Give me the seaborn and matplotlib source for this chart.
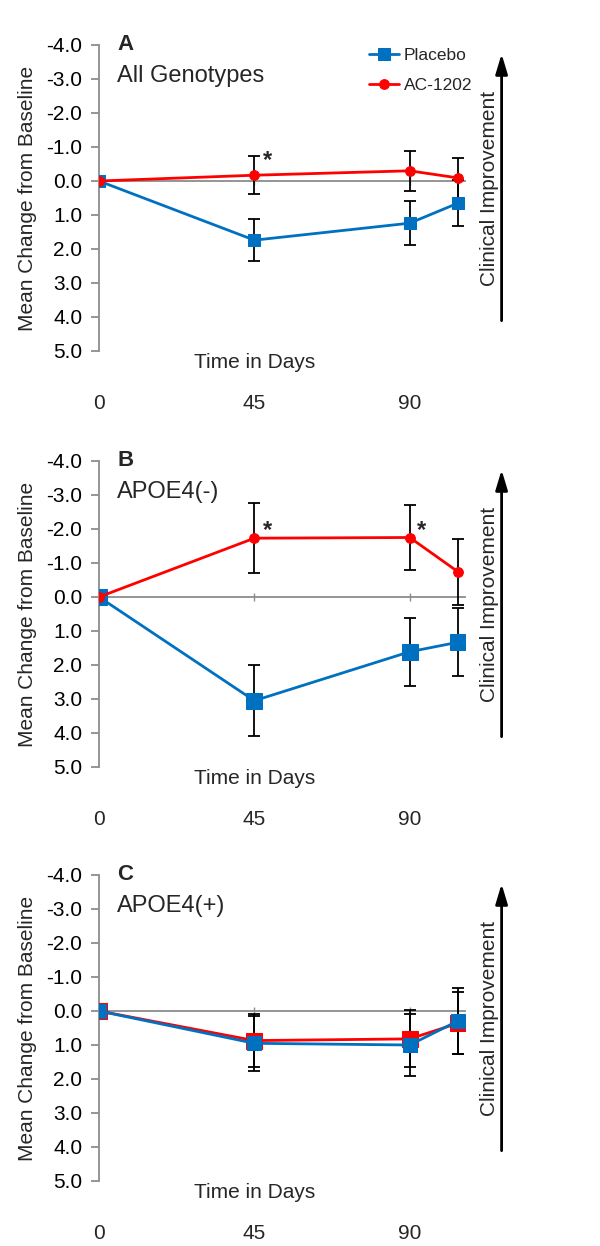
import pandas as pd
import numpy as np
import seaborn as sns
import matplotlib.pyplot as plt

sns.set_theme(style="white")
plt.rcParams['font.family'] = ['Liberation Sans', 'DejaVu Sans']

days = [0, 45, 90, 104]
xtick_vals = [0, 45, 90]

# panel A - all genotypes
a_placebo = [0.0, 1.74, 1.24, 0.65]
a_placebo_err = [0.0, 0.62, 0.64, 0.67]
a_ac = [0.0, -0.17, -0.30, -0.09]
a_ac_err = [0.0, 0.56, 0.58, 0.60]

# panel B - APOE4(-)
b_placebo = [0.0, 3.05, 1.61, 1.33]
b_placebo_err = [0.0, 1.05, 1.0, 1.0]
b_ac = [0.0, -1.73, -1.75, -0.74]
b_ac_err = [0.0, 1.03, 0.97, 0.98]

# panel C - APOE4(+)
c_placebo = [0.0, 0.95, 1.0, 0.29]
c_placebo_err = [0.0, 0.80, 0.90, 0.98]
c_ac = [0.0, 0.87, 0.82, 0.36]
c_ac_err = [0.0, 0.77, 0.84, 0.91]

panel_letters = ["A", "B", "C"]
panel_titles = ["All Genotypes", "APOE4(-)", "APOE4(+)"]
stars = [[(48.9, -0.6)], [(48.9, -1.97), (93.4, -1.97)], []]

blue = "#0070C0"
red = "#FF0000"
gray = "#8c8c8c"

panels = [
    (a_placebo, a_placebo_err, a_ac, a_ac_err, "o"),
    (b_placebo, b_placebo_err, b_ac, b_ac_err, "o"),
    (c_placebo, c_placebo_err, c_ac, c_ac_err, "s"),
]
msizes = [(8, 7), (11, 7), (10, 11)]

fig = plt.figure(figsize=(6, 12.46), dpi=100)
tops = [45, 461, 875]
H = 1246.0

for i, (pl, ple, ac, ace, ac_marker) in enumerate(panels):
    top = tops[i]
    ax = fig.add_axes([99 / 600, 1 - (top + 306) / H, 366 / 600, 306 / H])

    df = pd.DataFrame({"day": days * 2,
                       "value": pl + ac,
                       "group": ["Placebo"] * 4 + ["AC-1202"] * 4})

    # error bars first, behind markers
    ax.errorbar(days[1:], ac[1:], yerr=ace[1:], fmt="none", ecolor="black",
                elinewidth=1.3, capsize=4, capthick=1.3, zorder=2)
    ax.errorbar(days[1:], pl[1:], yerr=ple[1:], fmt="none", ecolor="black",
                elinewidth=1.3, capsize=4, capthick=1.3, zorder=2)

    ms_pl, ms_ac = msizes[i]
    if i == 2:
        sns.lineplot(data=df[df.group == "AC-1202"], x="day", y="value", color=red,
                     marker=ac_marker, markersize=ms_ac, markeredgecolor=red,
                     linewidth=2, ax=ax, label="AC-1202", zorder=3)
        sns.lineplot(data=df[df.group == "Placebo"], x="day", y="value", color=blue,
                     marker="s", markersize=ms_pl, markeredgecolor=blue,
                     linewidth=2, ax=ax, label="Placebo", zorder=4)
    else:
        sns.lineplot(data=df[df.group == "Placebo"], x="day", y="value", color=blue,
                     marker="s", markersize=ms_pl, markeredgecolor=blue,
                     linewidth=2, ax=ax, label="Placebo", zorder=3)
        sns.lineplot(data=df[df.group == "AC-1202"], x="day", y="value", color=red,
                     marker=ac_marker, markersize=ms_ac, markeredgecolor=red,
                     linewidth=2, ax=ax, label="AC-1202", zorder=4)

    ax.set_xlim(0, 106)
    ax.set_ylim(5, -4)
    ax.set_yticks(np.arange(-4, 6, 1))
    ax.set_yticklabels([f"{v:.1f}" for v in np.arange(-4, 6, 1)], fontsize=15)
    ax.set_xlabel("")
    ax.set_ylabel("Mean Change from Baseline", fontsize=15, labelpad=7)

    for s in ["top", "right"]:
        ax.spines[s].set_visible(False)
    ax.spines["left"].set_color(gray)
    ax.spines["left"].set_linewidth(1.3)
    ax.spines["bottom"].set_position(("data", 0))
    ax.spines["bottom"].set_color(gray)
    ax.spines["bottom"].set_linewidth(1.3)
    ax.spines["bottom"].set_zorder(1)
    ax.tick_params(axis="y", direction="out", length=6, width=1.3, color=gray,
                   left=True, pad=6, labelcolor="black")
    ax.set_xticks(xtick_vals)
    ax.tick_params(axis="x", direction="inout", length=6, width=1, color=gray,
                   bottom=True, labelbottom=False)

    sec = ax.secondary_xaxis(-0.125)
    sec.set_xticks(xtick_vals)
    sec.set_xticklabels([str(v) for v in xtick_vals], fontsize=15)
    sec.spines["bottom"].set_visible(False)
    sec.tick_params(length=0)

    ax.text(45, -0.005, "Time in Days", fontsize=15, ha="center", va="top",
            transform=ax.get_xaxis_transform())

    ax.text(0.05, 1.0, panel_letters[i], fontsize=16, fontweight="bold",
            ha="left", va="center", transform=ax.transAxes)
    ax.text(0.05, 0.9, panel_titles[i], fontsize=17, ha="left", va="center",
            transform=ax.transAxes)

    for sx, sy in stars[i]:
        ax.text(sx, sy, "*", fontsize=17, fontweight="bold", ha="center", va="center")

    # clinical improvement arrow
    ax.annotate("", xy=(1.1, 0.98), xytext=(1.1, 0.09), xycoords="axes fraction",
                arrowprops=dict(arrowstyle="-|>,head_width=0.3,head_length=1.0",
                                color="black", lw=2), annotation_clip=False)
    ax.text(1.066, 0.53, "Clinical Improvement", fontsize=15, rotation=90,
            ha="center", va="center", transform=ax.transAxes)

    if i == 0:
        ax.legend(loc="upper left", bbox_to_anchor=(0.715, 1.02), frameon=False,
                  fontsize=12.5, handlelength=1.7, handletextpad=0.3,
                  labelspacing=0.85, borderpad=0)
    else:
        ax.get_legend().remove()

fig.savefig("out.png", dpi=100)
